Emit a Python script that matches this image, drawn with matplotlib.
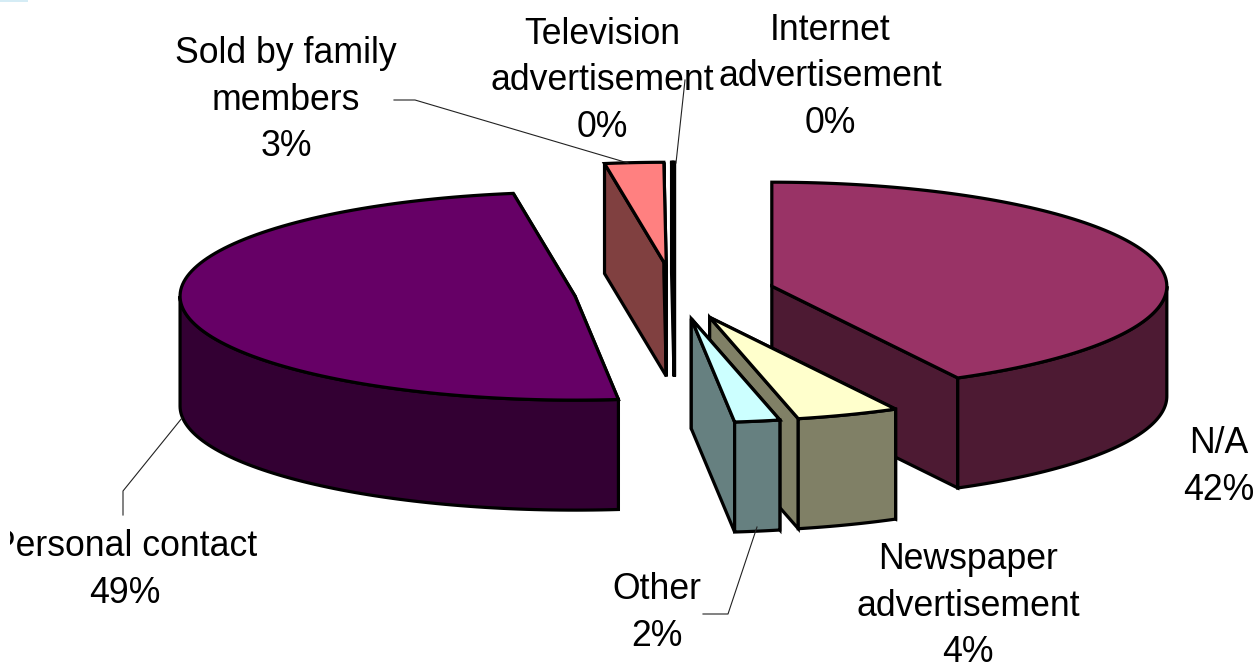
import numpy as np
import matplotlib
matplotlib.use('Agg')
import matplotlib.pyplot as plt
from matplotlib.patches import Polygon, Rectangle

# slices clockwise from 12 o'clock
names = ['N/A', 'Newspaper\nadvertisement', 'Other', 'Personal contact',
         'Sold by family\nmembers', 'Television\nadvertisement', 'Internet\nadvertisement']
values = [42.2, 4.2, 1.85, 49.25, 2.4, 0.05, 0.05]
percents = [42, 4, 2, 49, 3, 0, 0]
top_colors = ['#993366', '#ffffcc', '#ccffff', '#660066', '#ff8080', '#000000', '#000000']
side_colors = ['#4d1a33', '#808066', '#668080', '#330033', '#804040', '#000000', '#000000']

# pixel centres of the labels
label_x = [1219, 968, 657, 125, 286, 602, 830]
label_y = [467, 606, 613, 570, 100, 81, 77]

# pie geometry in pixels
cx, cy = 674.5, 292.6
rx, ry = 395, 104
depth = 110
explode = 0.254

fig = plt.figure(figsize=(12.6, 6.64), dpi=100)
ax = fig.add_axes([0, 0, 1, 1])
ax.set_xlim(0, 1260)
ax.set_ylim(664, 0)
ax.axis('off')


def rim(ox, oy, angles):
    return np.column_stack([ox + rx * np.sin(angles), oy - ry * np.cos(angles)])


def drop(points):
    return points + np.array([0, depth])


def face(points, color, z):
    ax.add_patch(Polygon(points, closed=True, facecolor=color, edgecolor='black',
                         linewidth=2.3, joinstyle='miter', zorder=z))


edges = np.cumsum([0] + values) / sum(values) * 2 * np.pi
mids = (edges[:-1] + edges[1:]) / 2
# back slices first
order = sorted(range(len(values)), key=lambda i: -np.cos(mids[i]))

for z, i in enumerate(order):
    start, end = edges[i], edges[i + 1]
    ox = cx + explode * rx * np.sin(mids[i])
    oy = cy - explode * ry * np.cos(mids[i])
    apex = np.array([[ox, oy]])

    # the two flat cut faces
    for a in [start, end]:
        wall = np.vstack([apex, rim(ox, oy, np.array([a]))])
        face(np.vstack([wall, drop(wall)[::-1]]), side_colors[i], z)

    # outer curved side, only the part that faces the viewer
    lo, hi = max(start, np.pi / 2), min(end, 3 * np.pi / 2)
    if hi > lo:
        arc = rim(ox, oy, np.linspace(lo, hi, 80))
        face(np.vstack([arc, drop(arc)[::-1]]), side_colors[i], z)

    top = rim(ox, oy, np.linspace(start, end, 120))
    face(np.vstack([apex, top]), top_colors[i], z)

# leader lines
leaders = [([394, 415, 628], [100, 100, 163]),
           ([685, 676], [80, 163]),
           ([182, 123, 123], [418, 491, 515]),
           ([703, 728, 757], [614, 614, 527])]
for lx, ly in leaders:
    ax.plot(lx, ly, color='#222222', linewidth=0.8, zorder=20)

# faint smear in the top left corner of the source
ax.add_patch(Rectangle((0, 0), 28, 2, facecolor='#d5ecf5', edgecolor='none', zorder=1))

clip = Rectangle((10, 0), 1250, 664, transform=ax.transData)
for name, pct, x, y in zip(names, percents, label_x, label_y):
    t = ax.text(x, y, '%s\n%d%%' % (name, pct), ha='center', va='center',
                family='Liberation Sans', fontsize=25.7, linespacing=1.41, color='black',
                zorder=30, clip_on=True)
    t.set_clip_path(clip)

fig.savefig('out.png', dpi=100, facecolor='white')
